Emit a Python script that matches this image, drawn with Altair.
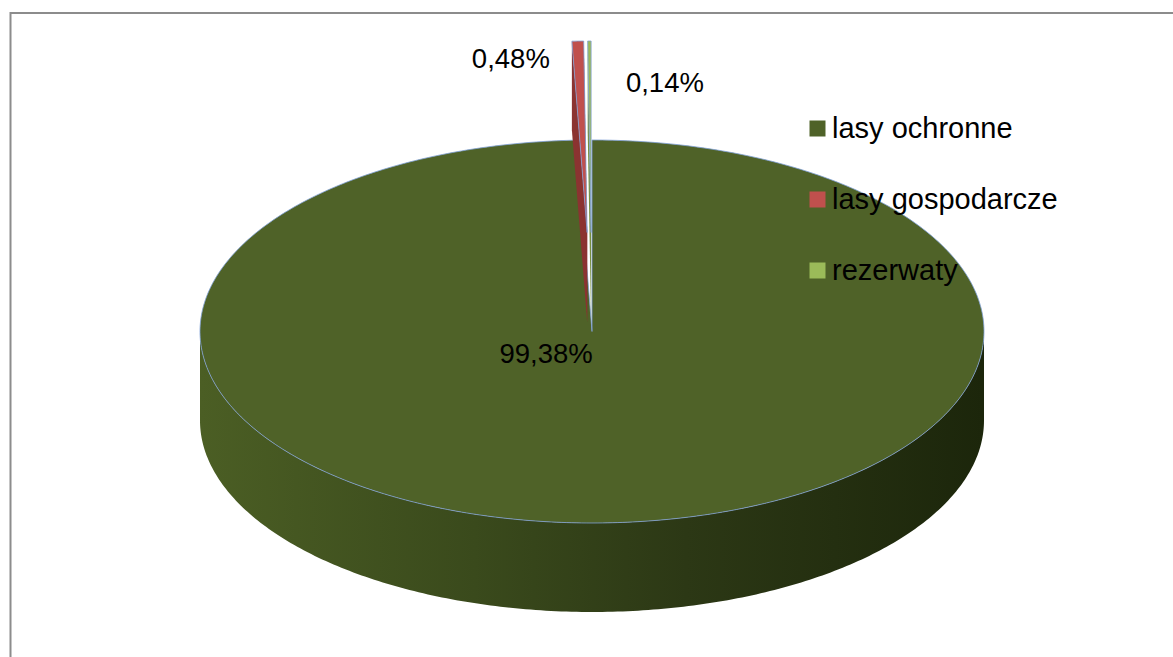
import math
import altair as alt
import pandas as pd

# ---- data -------------------------------------------------------------
categories = ["lasy ochronne", "lasy gospodarcze", "rezerwaty"]
shares = [99.38, 0.48, 0.14]
label_texts = ["99,38%", "0,48%", "0,14%"]

# ---- styles -----------------------------------------------------------
top_colors = ["#4f6228", "#c0504d", "#9bbb59"]
wall_colors = ["#3a4a1c", "#8b3331", "#76903f"]
explode = [0.0, 0.517, 0.517]          # radial pull-out (fraction of radius)

# ---- 3-D pie geometry (pie units: 1 = horizontal radius) --------------
TILT = 0.4885      # vertical / horizontal radius of the top face
DEPTH = 0.227      # thickness of the pie
W, H = 1173, 657
PX = 392.0         # pixels per pie unit
CX, CY = 592.0, 331.5
x_dom = [-CX / PX, (W - CX) / PX]
y_dom = [(CY - H) / PX, CY / PX]
xs = alt.Scale(domain=x_dom, nice=False, zero=False)
ys = alt.Scale(domain=y_dom, nice=False, zero=False)

label_pos = {"99,38%": (-0.117, -0.06), "0,48%": (-0.207, 0.693), "0,14%": (0.186, 0.631)}


def rim(phi, r=1.0, dx=0.0, dy=0.0):
    return (r * math.sin(phi) + dx, TILT * r * math.cos(phi) + dy)


total = sum(shares)
starts, ends = [], []
acc = 0.0
for s in shares:
    starts.append(acc / total * 2 * math.pi)
    acc += s
    ends.append(acc / total * 2 * math.pi)

top_rows, wall_rows = [], []
for k, cat in enumerate(categories):
    a0, a1 = starts[k], ends[k]
    mid = (a0 + a1) / 2
    dx, dy = explode[k] * math.sin(mid), explode[k] * TILT * math.cos(mid)
    n = max(4, int((a1 - a0) / (2 * math.pi) * 480) + 2)
    pts = [(dx, dy)]
    for j in range(n + 1):
        pts.append(rim(a0 + (a1 - a0) * j / n, 1.0, dx, dy))
    pts.append((dx, dy))
    for i, (x, y) in enumerate(pts):
        top_rows.append({"cat": cat, "poly": cat, "i": i, "x": x, "y": y})
    if explode[k] == 0:
        # visible outer wall (front half of the rim)
        lo, hi = max(a0, math.pi / 2), min(a1, 3 * math.pi / 2)
        m = 240
        arc = [rim(lo + (hi - lo) * j / m, 1.0, dx, dy) for j in range(m + 1)]
        poly = arc + [(x, y - DEPTH) for (x, y) in reversed(arc)]
        for i, (x, y) in enumerate(poly):
            wall_rows.append({"cat": cat, "poly": cat + "_outer", "i": i, "x": x, "y": y})
    else:
        for side, ang in (("a", a0), ("b", a1)):
            rx, ry = rim(ang, 1.0, dx, dy)
            poly = [(dx, dy), (rx, ry), (rx, ry - DEPTH), (dx, dy - DEPTH), (dx, dy)]
            for i, (x, y) in enumerate(poly):
                wall_rows.append({"cat": cat, "poly": cat + side, "i": i, "x": x, "y": y})

top_df = pd.DataFrame(top_rows)
wall_df = pd.DataFrame(wall_rows)


def poly_layer(df, fill, stroke=None, sw=0.0):
    kw = dict(filled=True, fill=fill, interpolate="linear", strokeWidth=sw)
    if stroke:
        kw["stroke"] = stroke
    else:
        kw["strokeOpacity"] = 0
    return alt.Chart(df).mark_line(**kw).encode(
        x=alt.X("x:Q", scale=xs, axis=None),
        y=alt.Y("y:Q", scale=ys, axis=None),
        order=alt.Order("i:Q"),
        detail="poly:N",
    )


green_grad = alt.Gradient(
    gradient="linear", x1=0, x2=1, y1=0, y2=0,
    stops=[
        alt.GradientStop(color="#4b5e24", offset=0),
        alt.GradientStop(color="#3a4a1c", offset=0.35),
        alt.GradientStop(color="#2c3815", offset=0.62),
        alt.GradientStop(color="#1c260b", offset=1),
    ],
)

layers = []
for k, cat in enumerate(categories):
    w = wall_df[wall_df["cat"] == cat]
    t = top_df[top_df["cat"] == cat]
    wall_fill = green_grad if k == 0 else wall_colors[k]
    layers.append(poly_layer(w, wall_fill))
    layers.append(poly_layer(t, top_colors[k], stroke="#7f9fd6", sw=0.8))

lab_df = pd.DataFrame({
    "text": label_texts,
    "x": [label_pos[t][0] for t in label_texts],
    "y": [label_pos[t][1] for t in label_texts],
})
labels = alt.Chart(lab_df).mark_text(
    font="Liberation Sans", fontSize=27.5, color="black", align="center", baseline="middle"
).encode(
    x=alt.X("x:Q", scale=xs, axis=None),
    y=alt.Y("y:Q", scale=ys, axis=None),
    text="text:N",
)

legend_df = pd.DataFrame({"cat": categories})
legend_layer = alt.Chart(legend_df).mark_square(size=256, opacity=1).encode(
    x=alt.value(-200),
    y=alt.value(-200),
    color=alt.Color(
        "cat:N",
        scale=alt.Scale(domain=categories, range=top_colors),
        legend=alt.Legend(
            title=None, orient="none", legendX=803, legendY=114,
            symbolType="square", symbolSize=256, symbolStrokeWidth=0,
            labelFontSize=29, labelFont="Liberation Sans", labelColor="black",
            rowPadding=41, labelOffset=0, padding=0, labelLimit=500,
        ),
    ),
)

one = pd.DataFrame({"a": [0]})
frame_top = alt.Chart(one).mark_rule(color="#8c8c8c", strokeWidth=2).encode(
    x=alt.value(10), x2=alt.value(1190), y=alt.value(13)
)
frame_left = alt.Chart(one).mark_rule(color="#8c8c8c", strokeWidth=2).encode(
    x=alt.value(10.5), y=alt.value(12), y2=alt.value(680)
)

chart = alt.layer(
    frame_top, frame_left, *layers, labels, legend_layer
).properties(
    width=W, height=H, padding=0, autosize=alt.AutoSizeParams(type="none"),
    background="white",
).configure_view(stroke=None)

chart.save("out.html", embed_options={"renderer": "svg", "actions": False})
